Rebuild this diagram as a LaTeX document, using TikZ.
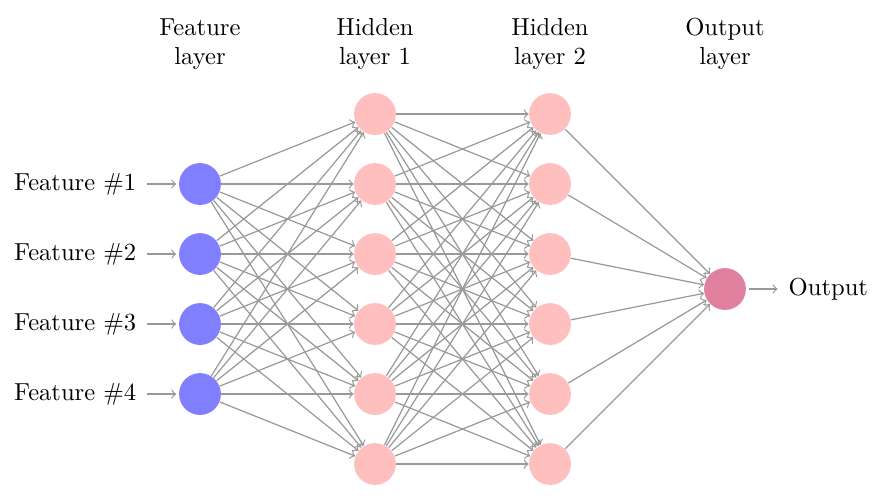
\documentclass[tikz,border=0pt]{standalone}
\begin{document}
\begin{tikzpicture}[
  neuron/.style={circle, minimum size=17pt, inner sep=0pt},
  inneuron/.style={neuron, fill=blue!50},
  hidneuron/.style={neuron, fill=red!25},
  outneuron/.style={neuron, fill=purple!50},
  conn/.style={->, draw=black!40, line width=0.5pt},
  annot/.style={align=center, text width=2cm}
]
\useasboundingbox (0,0) rectangle (12.514,-7.129);
\def\xi{2.857}
\def\xh{5.357}
\def\xk{7.857}
\def\xo{10.357}
% input
\foreach \i in {1,...,4} {
  \node[inneuron] (I-\i) at (\xi, {-2.629-(\i-1)}) {};
  \node[anchor=east] (L-\i) at (2.071, {-2.629-(\i-1)}) {Feature \#\i};
  \draw[conn, shorten <=1pt, shorten >=1pt] (L-\i) -- (I-\i);
}
% hidden layers
\foreach \j in {1,...,6} {
  \node[hidneuron] (H-\j) at (\xh, {-1.629-(\j-1)}) {};
  \node[hidneuron] (K-\j) at (\xk, {-1.629-(\j-1)}) {};
}
\node[outneuron] (O) at (\xo, -4.129) {};
\node[anchor=west] (OL) at (11.143, -4.129) {Output};
\draw[conn, shorten <=1pt, shorten >=1pt] (O) -- (OL);
% connections
\foreach \i in {1,...,4}
  \foreach \j in {1,...,6}
    \draw[conn] (I-\i) -- (H-\j);
\foreach \i in {1,...,6}
  \foreach \j in {1,...,6}
    \draw[conn] (H-\i) -- (K-\j);
\foreach \j in {1,...,6}
  \draw[conn] (K-\j) -- (O);
% annotations
\node[annot] (A1) at (\xi, -0.629) {Feature\\layer};
\node[annot] (A2) at (\xh, -0.629) {Hidden\\layer 1};
\node[annot] (A3) at (\xk, -0.629) {Hidden\\layer 2};
\node[annot] (A4) at (\xo, -0.629) {Output\\layer};
\end{tikzpicture}
\end{document}
